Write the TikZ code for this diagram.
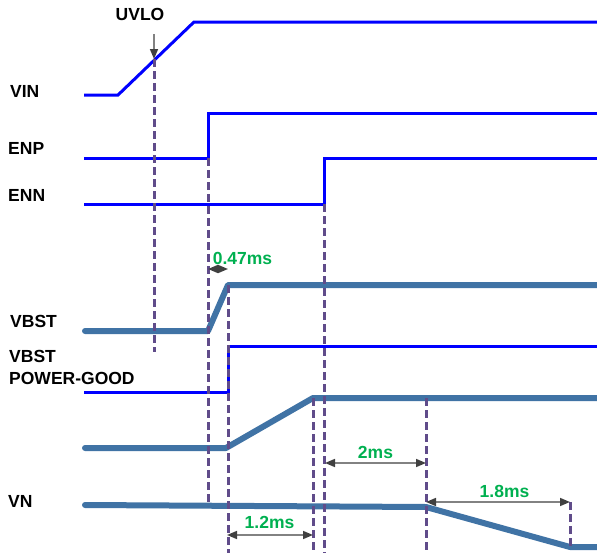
\documentclass[tikz,border=0pt]{standalone}
\usepackage{fontspec}
\setmainfont{Liberation Sans}
\definecolor{sigblue}{RGB}{0,0,255}
\definecolor{railblue}{RGB}{64,115,165}
\definecolor{markpurple}{RGB}{96,76,138}
\definecolor{dimgray}{RGB}{130,130,130}
\definecolor{tipgray}{RGB}{64,64,64}
\definecolor{timegreen}{RGB}{0,176,80}
\usetikzlibrary{arrows.meta}

\begin{document}
\begin{tikzpicture}[
  x=1pt, y=-1pt,
  siglabel/.style={
    inner sep=0pt, anchor=base west,
    font=\fontsize{17.5}{22}\selectfont\bfseries,
    align=left
  },
  timelabel/.style={
    inner sep=0pt, anchor=base,
    font=\fontsize{17.5}{22}\selectfont\bfseries,
    text=timegreen
  },
  logic/.style={draw=sigblue, line width=3pt},
  rail/.style={draw=railblue, line width=6pt, line cap=round, line join=round},
  marker/.style={draw=markpurple, line width=3pt, dash pattern=on 8pt off 4pt},
  span/.style={
    {Triangle[length=10pt,width=8pt,color=tipgray]}-{Triangle[length=10pt,width=8pt,color=tipgray]},
    draw=dimgray, line width=1.6pt
  },
  pointer/.style={-{Triangle[length=10pt,width=8pt,color=tipgray]}, draw=dimgray, line width=1.6pt}
]
\useasboundingbox (0,0) rectangle (597,557);

% signal names
\node[siglabel] (vin)  at (10,97)  {VIN};
\node[siglabel] (enp)  at (8,154)  {ENP};
\node[siglabel] (enn)  at (8,201)  {ENN};
\node[siglabel] (vbst) at (10,327) {VBST};
\node[siglabel, anchor=north west] (pgood) at (9,350) {VBST\\POWER-GOOD};
\node[siglabel] (vn)   at (8,507)  {VN};
\node[siglabel, anchor=base] (uvlo) at (140,20) {UVLO};

% waveforms
\draw[logic] (84,95) -- (118,95) -- (194,22) -- (597,22);
\draw[logic] (84,158) -- (208,158) -- (208,113) -- (597,113);
\draw[logic] (84,204) -- (324,204) -- (324,158) -- (597,158);
\draw[logic] (84,392) -- (228,392) -- (228,346) -- (597,346);
\draw[rail] (85,331) -- (208,331) -- (228,285) -- (600,285);
\draw[rail] (85,448) -- (226,448) -- (313,398) -- (600,398);
\draw[rail] (85,505) -- (426,507) -- (570,547) -- (600,547);

% timing markers
\foreach \xa/\ya/\yb in {154/59/352, 208/158/506, 228/285/553, 324/204/553,
                         313/398/553, 426/398/553, 570/502/548}
  \draw[marker] (\xa,\ya) -- (\xa,\yb);

% intervals
\coordinate (uvlotop) at (154,34);
\coordinate (uvlotip) at (154,59);
\draw[pointer] (uvlotop) -- (uvlotip);

\coordinate (d1a) at (208,269);
\coordinate (d1b) at (228,269);
\coordinate (d2a) at (325,463);
\coordinate (d2b) at (426,463);
\coordinate (d3a) at (227,535);
\coordinate (d3b) at (313,535);
\coordinate (d4a) at (426,502);
\coordinate (d4b) at (570,502);
\draw[span] (d1a) -- (d1b);
\draw[span] (d2a) -- (d2b);
\draw[span] (d3a) -- (d3b);
\draw[span] (d4a) -- (d4b);

\node[timelabel] (t047) at (242.5,264) {0.47ms};
\node[timelabel] (t2)   at (375.5,458) {2ms};
\node[timelabel] (t12)  at (269.5,528) {1.2ms};
\node[timelabel] (t18)  at (504.5,497) {1.8ms};
\end{tikzpicture}
\end{document}
